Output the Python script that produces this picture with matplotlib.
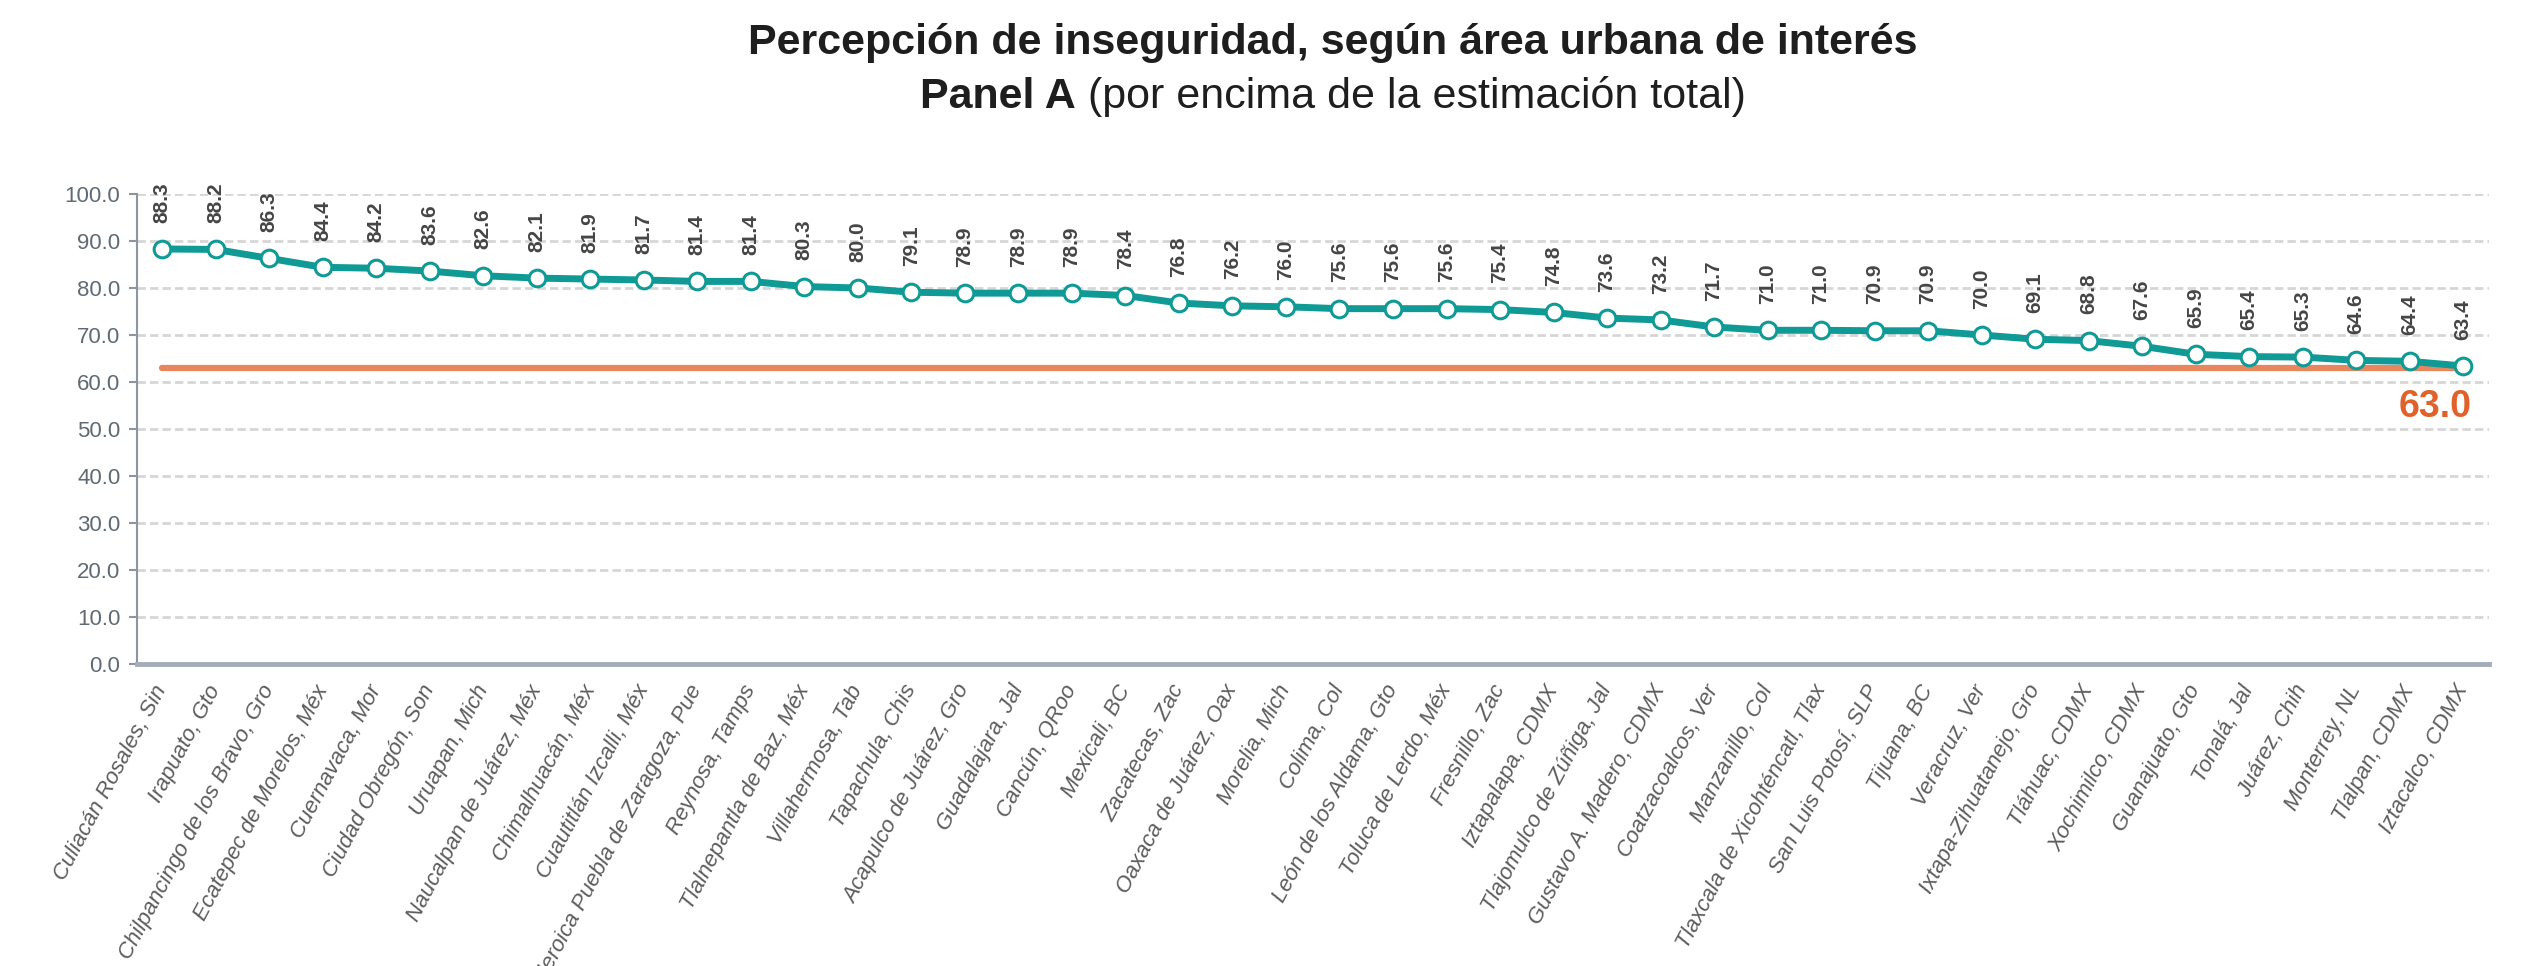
import matplotlib.pyplot as plt

plt.rcParams['font.family'] = ['Liberation Sans', 'DejaVu Sans']

ciudades = ["Culiacán Rosales, Sin", "Irapuato, Gto", "Chilpancingo de los Bravo, Gro",
            "Ecatepec de Morelos, Méx", "Cuernavaca, Mor", "Ciudad Obregón, Son",
            "Uruapan, Mich", "Naucalpan de Juárez, Méx", "Chimalhuacán, Méx",
            "Cuautitlán Izcalli, Méx", "Heroica Puebla de Zaragoza, Pue", "Reynosa, Tamps",
            "Tlalnepantla de Baz, Méx", "Villahermosa, Tab", "Tapachula, Chis",
            "Acapulco de Juárez, Gro", "Guadalajara, Jal", "Cancún, QRoo", "Mexicali, BC",
            "Zacatecas, Zac", "Oaxaca de Juárez, Oax", "Morelia, Mich", "Colima, Col",
            "León de los Aldama, Gto", "Toluca de Lerdo, Méx", "Fresnillo, Zac",
            "Iztapalapa, CDMX", "Tlajomulco de Zúñiga, Jal", "Gustavo A. Madero, CDMX",
            "Coatzacoalcos, Ver", "Manzanillo, Col", "Tlaxcala de Xicohténcatl, Tlax",
            "San Luis Potosí, SLP", "Tijuana, BC", "Veracruz, Ver", "Ixtapa-Zihuatanejo, Gro",
            "Tláhuac, CDMX", "Xochimilco, CDMX", "Guanajuato, Gto", "Tonalá, Jal",
            "Juárez, Chih", "Monterrey, NL", "Tlalpan, CDMX", "Iztacalco, CDMX"]

percepcion = [88.3, 88.2, 86.3, 84.4, 84.2, 83.6, 82.6, 82.1, 81.9, 81.7, 81.4, 81.4,
              80.3, 80.0, 79.1, 78.9, 78.9, 78.9, 78.4, 76.8, 76.2, 76.0, 75.6, 75.6,
              75.6, 75.4, 74.8, 73.6, 73.2, 71.7, 71.0, 71.0, 70.9, 70.9, 70.0, 69.1,
              68.8, 67.6, 65.9, 65.4, 65.3, 64.6, 64.4, 63.4]

total_nacional = 63.0

x = list(range(len(ciudades)))

fig = plt.figure(figsize=(25.34, 9.66), dpi=100)
ax = fig.add_axes([0.0541, 0.3126, 0.9281, 0.4866])

# linea de la estimacion total
ax.plot([x[0], x[-1]], [total_nacional, total_nacional], color='#E8875E', lw=4.5,
        solid_capstyle='round', zorder=2)
ax.plot(x, percepcion, color='#0F9A95', lw=5, marker='o', markersize=12,
        markerfacecolor='white', markeredgecolor='#0F9A95', markeredgewidth=2.2, zorder=3)

for xi, v in zip(x, percepcion):
    ax.annotate(f"{v:.1f}", (xi, v), xytext=(0, 19), textcoords='offset points',
                rotation=90, ha='center', va='bottom', fontsize=15, fontweight='bold',
                color='#454545')

ax.text(43.15, 54.6, f"{total_nacional:.1f}", ha='right', va='center', fontsize=27,
        fontweight='bold', color='#E0622A')

ax.set_xlim(-0.47, 43.48)
ax.set_ylim(0, 100)
ax.set_yticks(range(0, 101, 10))
ax.set_yticklabels([f"{t:.1f}" for t in range(0, 101, 10)], fontsize=16, color='#606a74')
ax.set_xticks(x)
ax.set_xticklabels(ciudades, rotation=62, fontsize=16, style='italic', color='#5c5c5c')
for lbl in ax.get_xticklabels():
    lbl.set_ha('right')
    lbl.set_va('center')
    lbl.set_rotation_mode('anchor')
ax.tick_params(axis='x', length=0, pad=16)
ax.tick_params(axis='y', length=6, width=1.5, color='#8c96a0', pad=6)

ax.grid(axis='y', color='#d6d6d6', lw=2, linestyle=(0, (3, 1.5)))
ax.set_axisbelow(True)
for s in ['top', 'right']:
    ax.spines[s].set_visible(False)
ax.spines['left'].set_color('#8c96a0')
ax.spines['left'].set_linewidth(1.5)
ax.spines['bottom'].set_color('#a3adb8')
ax.spines['bottom'].set_linewidth(3.5)

# titulo
fig.text(0.526, 0.956, "Percepción de inseguridad, según área urbana de interés",
         ha='center', va='center', fontsize=31, fontweight='bold', color='#1e1e1e')
t1 = fig.text(0, 0.9, "Panel A", ha='left', va='center', fontsize=31,
              fontweight='bold', color='#1e1e1e')
t2 = fig.text(0, 0.9, " (por encima de la estimación total)", ha='left', va='center',
              fontsize=31, color='#1e1e1e')
fig.canvas.draw()
r = fig.canvas.get_renderer()
w1 = t1.get_window_extent(r).width / fig.bbox.width
w2 = t2.get_window_extent(r).width / fig.bbox.width
x0 = 0.526 - (w1 + w2) / 2
t1.set_x(x0)
t2.set_x(x0 + w1)

fig.savefig("out.png", dpi=100)
